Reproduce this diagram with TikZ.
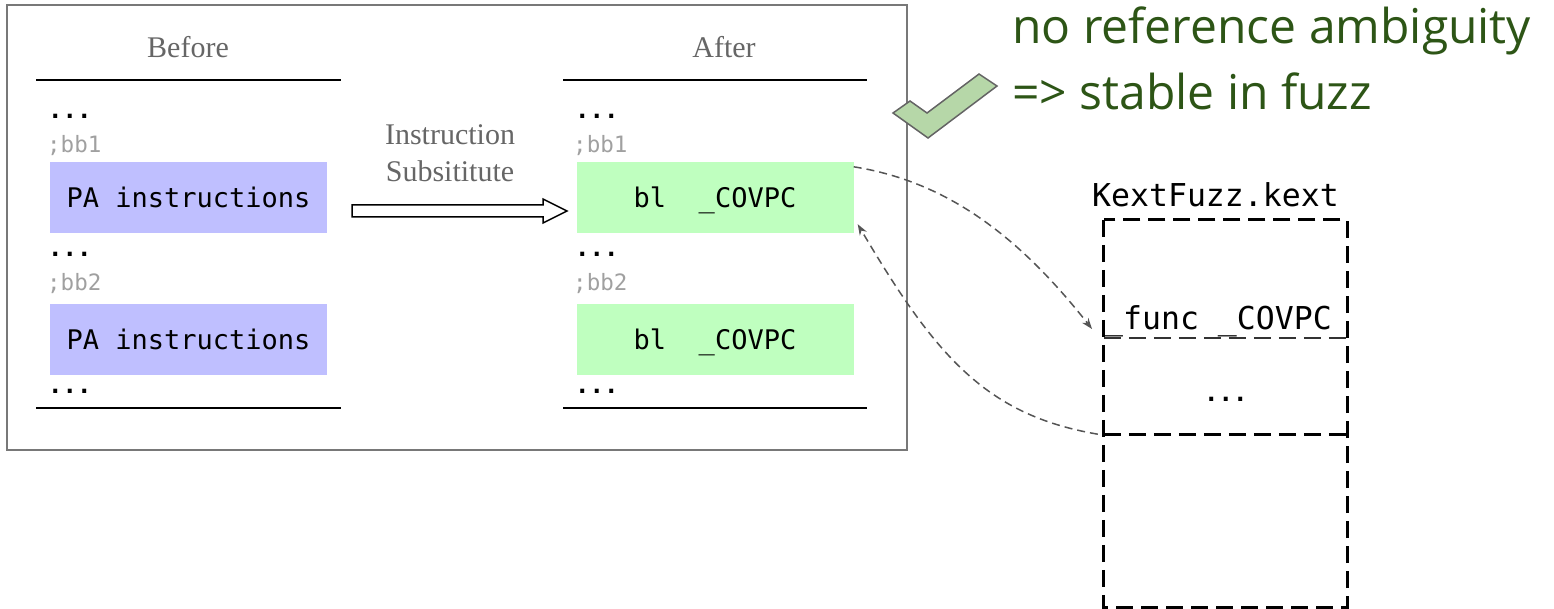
\documentclass[tikz,border=0pt]{standalone}
\usepackage{fontspec}
\setmainfont{Liberation Serif}
\setmonofont{DejaVu Sans Mono}
\newfontfamily\notefont{Open Sans}
\usetikzlibrary{arrows.meta}

\definecolor{paBlue}{RGB}{191,191,255}
\definecolor{covGreen}{RGB}{191,255,191}
\definecolor{checkFill}{RGB}{182,215,168}
\definecolor{checkLine}{RGB}{100,100,100}
\definecolor{noteGreen}{RGB}{45,85,22}
\definecolor{labelGray}{RGB}{102,102,102}
\definecolor{commentGray}{RGB}{160,160,160}
\definecolor{frameGray}{RGB}{120,120,120}
\definecolor{linkGray}{RGB}{85,85,85}

\begin{document}
\begin{tikzpicture}[x=1pt,y=-1pt,
  title/.style={font=\fontsize{30}{37}\selectfont, text=labelGray, inner sep=0, anchor=base},
  dots/.style={font=\ttfamily\bfseries\fontsize{24}{26}\selectfont, inner sep=0, anchor=base west},
  bbtag/.style={font=\ttfamily\fontsize{22.5}{26}\selectfont, text=commentGray, inner sep=0, anchor=base west},
  block/.style={font=\ttfamily\fontsize{27}{30}\selectfont, inner sep=0,
    minimum width=277pt, minimum height=71pt, text height=19.5pt, text depth=0pt},
  pablock/.style={block, fill=paBlue},
  covblock/.style={block, fill=covGreen},
  rule/.style={line width=1.6pt, black},
  kexttext/.style={font=\ttfamily\fontsize{31.5}{36}\selectfont, inner sep=0, anchor=base west},
  note/.style={font=\notefont\fontsize{48}{62}\selectfont, text=noteGreen, inner sep=0, anchor=base west},
  kextbox/.style={line width=3pt, dash pattern=on 17pt off 8pt},
  kextsplit/.style={line width=1.6pt, black!80, dash pattern=on 17pt off 8pt},
  link/.style={line width=1.5pt, linkGray, dash pattern=on 8pt off 5pt,
    -{Stealth[length=11pt,width=8pt]}},
  checkmark/.style={fill=checkFill, draw=checkLine, line width=1.5pt, line join=miter}
]
\useasboundingbox (0,0) rectangle (1554,609);

% frame around the before/after comparison
\node[draw=frameGray, line width=1.5pt, minimum width=900pt, minimum height=445pt, inner sep=0]
  (frame) at (457,227.5) {};

% ---- Before column ----
\node[title] (before) at (188,58) {Before};
\draw[rule] (36,80) -- (341,80);
\node[dots]  (bdots1) at (48,119) {...};
\node[bbtag] (bbb1)   at (47,153) {;bb1};
\node[pablock] (pa1) at (188.5,197.5) {PA instructions};
\node[dots]  (bdots2) at (48,257) {...};
\node[bbtag] (bbb2)   at (47,291) {;bb2};
\node[pablock] (pa2) at (188.5,339.5) {PA instructions};
\node[dots]  (bdots3) at (48,393) {...};
\draw[rule] (36,408) -- (341,408);

% ---- After column ----
\node[title] (after) at (724,58) {After};
\draw[rule] (563,80) -- (867,80);
\node[dots]  (adots1) at (575,119) {...};
\node[bbtag] (abb1)   at (573,153) {;bb1};
\node[covblock] (g1) at (715,197.5) {bl\ \ \_COVPC};
\node[dots]  (adots2) at (575,257) {...};
\node[bbtag] (abb2)   at (573,291) {;bb2};
\node[covblock] (g2) at (715,339.5) {bl\ \ \_COVPC};
\node[dots]  (adots3) at (575,393) {...};
\draw[rule] (563,408) -- (867,408);

% ---- substitution step ----
\node[title] (subst1) at (450,145) {Instruction};
\node[title] (subst2) at (450,182) {Subsititute};
\draw[line width=1.5pt, fill=white, line join=miter]
  (352,205) -- (543,205) -- (543,199) -- (567,211) -- (543,223) -- (543,217) -- (352,217) -- cycle;

% ---- check mark and remark ----
\draw[checkmark] (893,113) -- (910,101) -- (927,113) -- (979,74) -- (997,86) -- (928,138) -- cycle;
\node[note] (note1) at (1012,44)  {no reference ambiguity};
\node[note] (note2) at (1012,110) {=> stable in fuzz};

% ---- kext image ----
\node[kexttext] (kext) at (1092,207) {KextFuzz.kext};
\node[inner sep=0, minimum width=243pt, minimum height=118pt] (ksec1) at (1225.5,279) {};
\node[inner sep=0, minimum width=243pt, minimum height=96pt]  (ksec2) at (1225.5,386) {};
\node[inner sep=0, minimum width=243pt, minimum height=173pt] (ksec3) at (1225.5,520.5) {};
\draw[kextbox] (ksec1.north west) rectangle (ksec3.south east);
\draw[kextsplit] (ksec1.south west) -- (ksec1.south east);
\draw[kextbox] (ksec2.south west) -- (ksec2.south east);
\node[kexttext] (func) at (1104,329) {\_func \_COVPC};
\node[dots] (kdots) at (1204,401) {...};

% ---- call and return links ----
\draw[link] ([yshift=-5pt]g1.north east)
  .. controls (950,182) and (1022,240) .. ([xshift=-12pt]func.base west);
\draw[link] ([xshift=-6pt]ksec2.south west)
  .. controls (985,415) and (935,355) .. ([xshift=4pt,yshift=9pt]g1.south east);
\end{tikzpicture}
\end{document}
